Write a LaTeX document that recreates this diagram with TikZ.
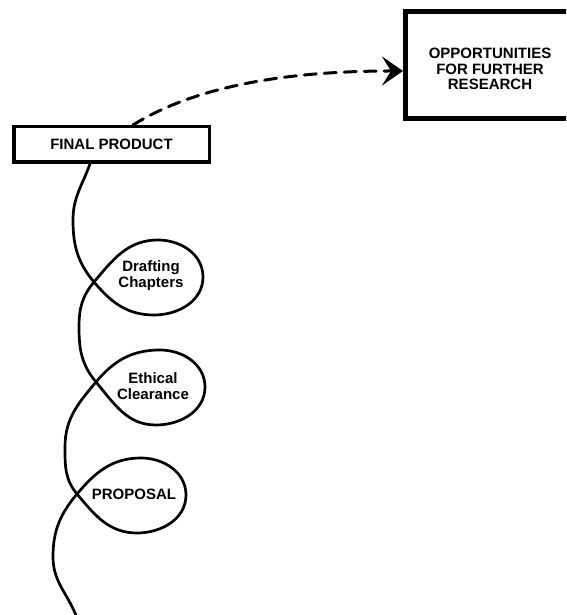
\documentclass[tikz,border=0pt]{standalone}
\usepackage{fontspec}
\setmainfont{Liberation Sans}
\usetikzlibrary{arrows.meta}
\begin{document}
\begin{tikzpicture}[x=1pt,y=1pt,line cap=round,
	spiral/.style={line width=2.7pt},
	txt/.style={font=\fontsize{15}{15.8}\selectfont\bfseries,align=center,inner sep=0pt},
	prodbox/.style={draw,inner sep=0pt}]
	\useasboundingbox (0,0) rectangle (566,615);
	\clip (0,0) rectangle (566,615);
	\node[prodbox,txt,line width=3.5pt,minimum width=195.5pt,minimum height=35.5pt] (final) at (111.5,470.5) {FINAL PRODUCT};
	\node[prodbox,line width=5pt,minimum width=169pt,minimum height=107pt] (opp) at (490,550) {};
	\node[txt] (opptxt) at (490,546) {OPPORTUNITIES\\FOR FURTHER\\RESEARCH};
	\draw[line width=3pt,dash pattern=on 12pt off 8pt,-{Stealth[length=21pt,width=29pt,inset=9pt]}] ([xshift=21.5pt]final.north) .. controls +(72,45) and +(-93,0) .. ([yshift=-6pt]opp.west);
	% crossings of the spiral
	\coordinate (c1) at (94,333);
	\coordinate (c2) at (96,233);
	\coordinate (c3) at (77,121);
	\coordinate (tail) at (77,-3);
	\draw[spiral] ([xshift=-21.5pt]final.south) to[out=250,in=90] (73,395) to[out=270,in=130] (c1)
		(c1) to[out=230,in=90] (79,288) to[out=270,in=130] (c2)
		(c2) to[out=230,in=90] (65,168) to[out=270,in=130] (c3)
		(c3) to[out=230,in=90] (53,58) to[out=270,in=110] (tail);
	\foreach \cross/\dy/\nom/\mot in {c1/5/draft/{Drafting\\Chapters},c2/-5/ethic/{Ethical\\Clearance},c3/-1/prop/PROPOSAL}{
		\draw[spiral] (\cross) to[out=310,in=180] ([shift={(60,\dy-38)}]\cross) to[out=0,in=270] ([shift={(109,\dy)}]\cross)
			to[out=90,in=0] ([shift={(64,\dy+37)}]\cross) to[out=180,in=50] (\cross);
		\node[txt] (\nom) at ([shift={(57,\dy+1)}]\cross) {\mot};}
\end{tikzpicture}
\end{document}
